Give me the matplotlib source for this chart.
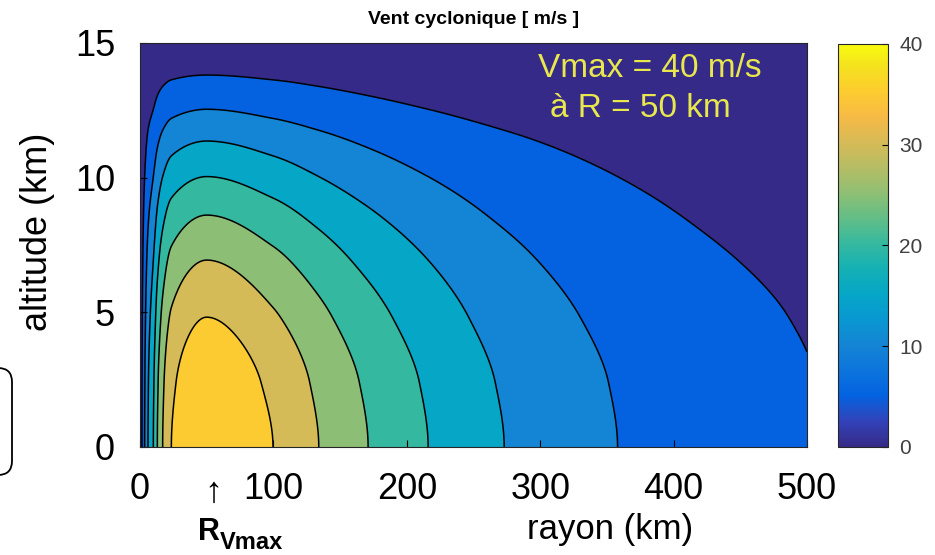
import numpy as np
import matplotlib
matplotlib.use("Agg")
import matplotlib.pyplot as plt
from matplotlib.colors import LinearSegmentedColormap, Normalize
from matplotlib.cm import ScalarMappable
from matplotlib.patches import FancyBboxPatch
from matplotlib.transforms import IdentityTransform

plt.rcParams['font.family'] = ['Liberation Sans', 'DejaVu Sans']

# ---------------- data ----------------
vmax = 40.0
levels = [0, 5, 10, 15, 20, 25, 30, 35, 40]
# radial profile of the surface wind (fraction of Vmax) vs radius (km)
radius_km = [0, 1.5, 3.5, 6, 10, 13, 17, 23.5, 50, 99.7, 134, 171, 216, 273, 358, 420, 500]
radial_frac = [0, 0.125, 0.25, 0.375, 0.5, 0.625, 0.75, 0.875, 1.0,
               0.875, 0.75, 0.625, 0.5, 0.375, 0.25, 0.187, 0.134]
# vertical decay (fraction) vs altitude (km)
height_km = [0, 2.4, 4.82, 6.94, 8.61, 10.04, 11.36, 12.54, 13.81, 15]
vert_frac = [1.0, 0.968, 0.875, 0.75, 0.625, 0.5, 0.375, 0.25, 0.125, 0.0]
xticks = [0, 100, 200, 300, 400, 500]
yticks = [0, 5, 10, 15]
cbar_ticks = [0, 10, 20, 30, 40]

# parula-like colormap anchors (style)
parula_anchors = [
    (0.2081, 0.1663, 0.5292), (0.1959, 0.2645, 0.7279), (0.0117, 0.3875, 0.8820),
    (0.0498, 0.4586, 0.8641), (0.0793, 0.5200, 0.8312), (0.0343, 0.5966, 0.8199),
    (0.0228, 0.6535, 0.7768), (0.0843, 0.6928, 0.7062), (0.2178, 0.7250, 0.6193),
    (0.3953, 0.7459, 0.5244), (0.5709, 0.7485, 0.4494), (0.7184, 0.7411, 0.3905),
    (0.8507, 0.7299, 0.3360), (0.9739, 0.7314, 0.2666), (0.9880, 0.8066, 0.1794),
    (0.9589, 0.8949, 0.1132), (0.9763, 0.9831, 0.0538)]
anchor_pos = [i * 4 / 63 for i in range(16)] + [1.0]
parula = LinearSegmentedColormap.from_list('parula', list(zip(anchor_pos, parula_anchors)))


def pchip(xk, yk, x, d0=None):
    xk = np.asarray(xk, float); yk = np.asarray(yk, float)
    h = np.diff(xk); delta = np.diff(yk) / h
    d = np.zeros_like(yk)
    for k in range(1, len(xk) - 1):
        if delta[k - 1] * delta[k] > 0:
            w1 = 2 * h[k] + h[k - 1]; w2 = h[k] + 2 * h[k - 1]
            d[k] = (w1 + w2) / (w1 / delta[k - 1] + w2 / delta[k])
    d[0] = delta[0] if d0 is None else d0
    d[-1] = delta[-1]
    idx = np.clip(np.searchsorted(xk, x) - 1, 0, len(xk) - 2)
    t = (x - xk[idx]) / h[idx]
    h00 = 2 * t**3 - 3 * t**2 + 1; h10 = t**3 - 2 * t**2 + t
    h01 = -2 * t**3 + 3 * t**2; h11 = t**3 - t**2
    return h00 * yk[idx] + h10 * h[idx] * d[idx] + h01 * yk[idx + 1] + h11 * h[idx] * d[idx + 1]


r = np.linspace(0, 500, 1501)
z = np.linspace(0, 15, 451)
F = pchip(radius_km, radial_frac, r)
G = pchip(height_km, vert_frac, z, d0=0.0)
R, Z = np.meshgrid(r, z)
V = vmax * np.outer(G, F)

# ---------------- figure ----------------
W, H = 935, 555
fig = plt.figure(figsize=(W / 100, H / 100), dpi=100)
ax = fig.add_axes([140 / W, (H - 447) / H, 667 / W, 404 / H])

norm = Normalize(0, 40)
band_colors = [parula(norm(l)) for l in levels[:-1]]
ax.contourf(R, Z, V, levels=levels, colors=band_colors)
ax.contour(R, Z, V, levels=levels[1:-1], colors='k', linewidths=1.1)

ax.set_xlim(0, 500); ax.set_ylim(0, 15)
ax.set_xticks(xticks); ax.set_yticks(yticks)
ax.tick_params(direction='in', length=5, labelsize=26, width=0.8)
ax.tick_params(axis='x', pad=18)
ax.tick_params(axis='y', pad=18)
for s in ax.spines.values():
    s.set_color('#262626'); s.set_linewidth(0.8)

# colorbar
cax = fig.add_axes([838 / W, (H - 447) / H, 50 / W, 403 / H])
cb = fig.colorbar(ScalarMappable(norm=norm, cmap=parula), cax=cax, ticks=cbar_ticks)
cb.outline.set_linewidth(0.8)
cb.outline.set_edgecolor('#262626')
cax.tick_params(direction='in', length=4, labelsize=15, labelcolor='#404040', pad=8, width=0.8)

# texts
def ftext(x, y, s, **kw):
    fig.text(x / W, 1 - y / H, s, **kw)

ftext(474, 20, 'Vent cyclonique [ m/s ]', ha='center', va='center', fontsize=14, fontweight='bold')
ftext(38, 232, 'altitude (km)', rotation=90, ha='center', va='center', fontsize=26)
ftext(610, 530, 'rayon (km)', ha='center', va='center', fontsize=25)
ftext(538, 77, 'Vmax = 40 m/s', ha='left', va='baseline', fontsize=24, color='#e8e84e')
ftext(550, 117, 'à R = 50 km', ha='left', va='baseline', fontsize=24, color='#e8e84e')
ftext(213, 492, '↑', ha='center', va='center', fontsize=26)
ftext(198, 540, 'R', ha='left', va='baseline', fontsize=22, fontweight='bold')
ftext(220, 549, 'Vmax', ha='left', va='baseline', fontsize=17, fontweight='bold')

box = FancyBboxPatch((-40, H - 475), 52, 107, boxstyle='round,pad=0,rounding_size=14',
                     transform=IdentityTransform(), facecolor='none', edgecolor='black',
                     linewidth=1.3)
fig.patches.append(box)

fig.savefig('out.png', dpi=100)
